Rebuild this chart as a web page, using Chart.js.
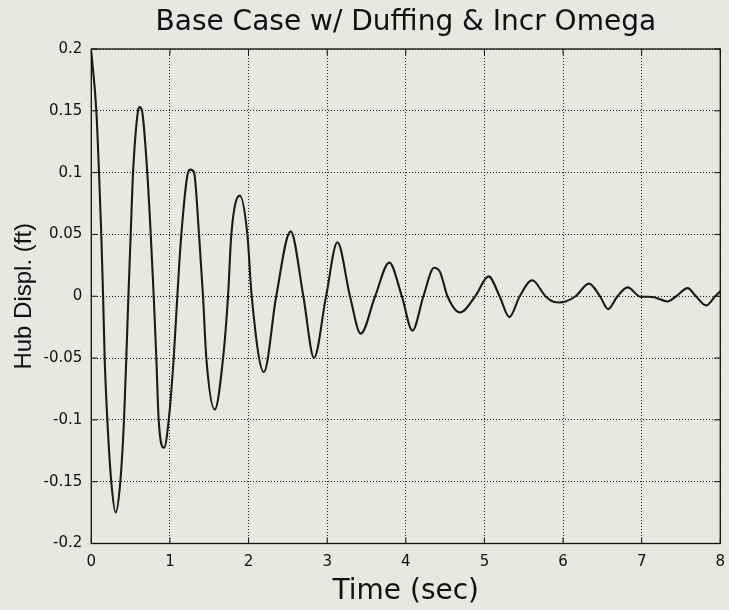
<!DOCTYPE html>
<html>
<head>
<meta charset="utf-8">
<script src="https://cdn.jsdelivr.net/npm/chart.js@4/dist/chart.umd.min.js"></script>
<style>
  html, body { margin: 0; padding: 0; background: #e7e8e4; }
  #wrap { width: 729px; height: 610px; }
</style>
</head>
<body>
<div id="wrap"><canvas id="c" width="729" height="610"></canvas></div>
<script>
// ---- data ----
const timeSec = [
  0, 0.064, 0.098, 0.127, 0.15, 0.17, 0.204, 0.254, 0.31, 0.369, 0.416, 0.445, 0.472,
  0.501, 0.531, 0.594, 0.614, 0.645, 0.712, 0.756, 0.794, 0.827, 0.857, 0.925, 0.985,
  1.048, 1.094, 1.145, 1.23, 1.262, 1.307, 1.37, 1.421, 1.463, 1.57, 1.676, 1.739,
  1.781, 1.888, 1.985, 2.04, 2.195, 2.352, 2.535, 2.697, 2.833, 2.986,
  3.13, 3.29, 3.427, 3.61, 3.79, 3.95, 4.084, 4.224, 4.36, 4.436, 4.53, 4.69, 4.883,
  5.053, 5.193, 5.317, 5.449, 5.607, 5.777, 5.88, 5.95, 6.03, 6.16, 6.33, 6.47, 6.573,
  6.692, 6.82, 6.99, 7.08, 7.16, 7.33, 7.44, 7.585, 7.69, 7.82, 7.935, 8.0
];
const hubDispl = [
  0.198, 0.15, 0.10, 0.05, 0, -0.05, -0.10, -0.15, -0.175, -0.15, -0.10, -0.05, 0,
  0.05, 0.10, 0.15, 0.153, 0.15, 0.10, 0.05, 0, -0.05, -0.10, -0.1226, -0.10,
  -0.05, 0, 0.05, 0.10, 0.1024, 0.10, 0.05, 0, -0.05, -0.0916, -0.05, 0,
  0.05, 0.0814, 0.05, 0, -0.0613, 0, 0.0525, 0, -0.0498, 0,
  0.0437, 0, -0.0302, 0, 0.0272, 0, -0.0278, 0, 0.023, 0.0195, 0, -0.0131, 0,
  0.0161, 0, -0.0169, 0, 0.0129, 0, -0.0045, -0.005, -0.0043, 0, 0.0102, 0, -0.0104,
  0, 0.0072, -0.0005, -0.0004, -0.0008, -0.0042, 0, 0.0066, 0, -0.0074, 0, 0.004
];
const xTickValues = [0, 1, 2, 3, 4, 5, 6, 7, 8];
const yTickValues = [-0.2, -0.15, -0.1, -0.05, 0, 0.05, 0.1, 0.15, 0.2];
const yTickLabels = ['-0.2', '-0.15', '-0.1', '-0.05', '0', '0.05', '0.1', '0.15', '0.2'];
const chartTitle = 'Base Case w/ Duffing & Incr Omega';
const xTitle = 'Time (sec)';
const yTitle = 'Hub Displ. (ft)';

const BG = '#e7e8e4';
const points = timeSec.map((t, i) => ({ x: t, y: hubDispl[i] }));

const bgPlugin = {
  id: 'bg',
  beforeDraw(chart) {
    const ctx = chart.ctx;
    ctx.save();
    ctx.fillStyle = BG;
    ctx.fillRect(0, 0, chart.width, chart.height);
    ctx.restore();
  }
};

const boxPlugin = {
  id: 'box',
  afterDraw(chart) {
    const { ctx, chartArea: a, scales } = chart;
    const L = 6;
    ctx.save();
    ctx.setLineDash([]);
    ctx.strokeStyle = '#111';
    ctx.lineWidth = 1.3;
    ctx.strokeRect(a.left, a.top, a.right - a.left, a.bottom - a.top);
    ctx.lineWidth = 1;
    ctx.beginPath();
    xTickValues.forEach(v => {
      const px = scales.x.getPixelForValue(v);
      ctx.moveTo(px, a.bottom); ctx.lineTo(px, a.bottom - L);
      ctx.moveTo(px, a.top); ctx.lineTo(px, a.top + L);
    });
    yTickValues.forEach(v => {
      const py = scales.y.getPixelForValue(v);
      ctx.moveTo(a.left, py); ctx.lineTo(a.left + L, py);
      ctx.moveTo(a.right, py); ctx.lineTo(a.right - L, py);
    });
    ctx.stroke();
    ctx.restore();
  }
};

Chart.defaults.color = '#000';

new Chart(document.getElementById('c'), {
  type: 'line',
  data: {
    datasets: [{
      data: points,
      borderColor: '#1a1a1a',
      borderWidth: 2.1,
      pointRadius: 0,
      cubicInterpolationMode: 'monotone',
      fill: false
    }]
  },
  options: {
    responsive: false,
    devicePixelRatio: 1,
    animation: false,
    layout: { padding: { left: 0, right: 8.7, top: 0, bottom: 0 } },
    plugins: {
      legend: { display: false },
      tooltip: { enabled: false },
      title: {
        display: true,
        fullSize: false,
        text: chartTitle,
        color: '#111',
        font: { family: 'DejaVu Sans', size: 28, weight: 'normal' },
        padding: { top: 6, bottom: 9.4 }
      }
    },
    scales: {
      x: {
        type: 'linear',
        min: 0, max: 8,
        afterBuildTicks: s => { s.ticks = xTickValues.map(v => ({ value: v })); },
        afterFit: s => { s.height = 66.5; s.paddingLeft = 0; s.paddingRight = 0; },
        ticks: {
          padding: 10,
          font: { family: 'DejaVu Sans', size: 15 },
          color: '#111',
          maxRotation: 0,
          callback: v => String(v)
        },
        grid: { color: '#222', lineWidth: 1, drawTicks: false },
        border: { display: false, dash: [1, 2] },
        title: {
          display: true,
          text: xTitle,
          color: '#111',
          font: { family: 'DejaVu Sans', size: 28, weight: 'normal' },
          padding: { top: 0, bottom: 1 }
        }
      },
      y: {
        type: 'linear',
        min: -0.2, max: 0.2,
        afterBuildTicks: s => { s.ticks = yTickValues.map(v => ({ value: v })); },
        afterFit: s => { s.width = 91.3; s.paddingTop = 0; s.paddingBottom = 0; },
        ticks: {
          padding: 9,
          font: { family: 'DejaVu Sans', size: 15 },
          color: '#111',
          callback: (v) => yTickLabels[yTickValues.findIndex(t => Math.abs(t - v) < 1e-9)]
        },
        grid: { color: '#222', lineWidth: 1, drawTicks: false },
        border: { display: false, dash: [1, 2] },
        title: {
          display: true,
          text: yTitle,
          color: '#111',
          font: { family: 'Liberation Sans', size: 24, weight: 'normal' },
          padding: { top: 10, bottom: 0 }
        }
      }
    }
  },
  plugins: [bgPlugin, boxPlugin]
});
</script>
</body>
</html>
